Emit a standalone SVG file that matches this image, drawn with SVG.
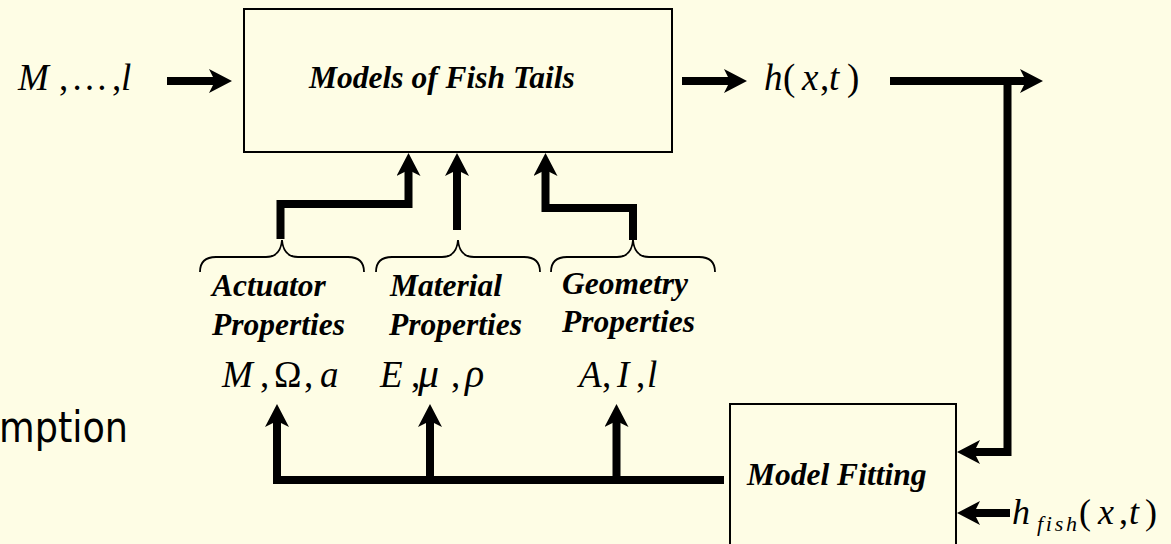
<svg xmlns="http://www.w3.org/2000/svg" width="1171" height="544" viewBox="0 0 1171 544">
<style>
.bg{fill:#FEFDE5}
.box{fill:none;stroke:#000;stroke-width:2}
.lbl{font-family:"Liberation Serif","Times New Roman",serif;font-weight:bold;font-style:italic;font-size:31.5px;fill:#000}
.m{font-family:"Liberation Serif","Times New Roman",serif;font-size:37px;fill:#000}
.i{font-style:italic}
.wire{fill:none;stroke:#000;stroke-width:8;stroke-linejoin:miter;stroke-linecap:butt}
.arr{marker-end:url(#ah)}
.brace{fill:none;stroke:#000;stroke-width:1.8}
.side{font-family:"DejaVu Sans","Noto Sans",sans-serif;font-size:42px;fill:#000}
</style>
<defs>
<marker id="ah" markerUnits="userSpaceOnUse" markerWidth="23" markerHeight="24" viewBox="0 0 23 24" refX="9" refY="12" orient="auto">
<path d="M0,0 L23,12 L0,24 L6,12 Z" fill="#000"/>
</marker>
</defs>
<rect class="bg" x="0" y="0" width="1171" height="544"/>

<g id="side-text">
<text class="side" x="-1" y="442" textLength="129" lengthAdjust="spacingAndGlyphs">mption</text>
</g>

<g id="node-models">
<rect class="box" x="244" y="9" width="428" height="143"/>
<text class="lbl" x="309" y="88">Models of Fish Tails</text>
</g>

<g id="node-model-fitting">
<rect class="box" x="730" y="404" width="226" height="170"/>
<text class="lbl" x="747" y="485">Model Fitting</text>
</g>

<g id="node-input">
<text class="m"><tspan class="i" x="18" y="90">M</tspan><tspan x="59" y="90">,</tspan><tspan x="71" y="90">…</tspan><tspan x="112" y="90">,</tspan><tspan class="i" x="121" y="90">l</tspan></text>
</g>

<g id="node-output">
<text class="m"><tspan class="i" x="764" y="90">h</tspan><tspan x="783" y="90">(</tspan><tspan class="i" x="802" y="90">x</tspan><tspan x="820" y="90">,</tspan><tspan class="i" x="829" y="90">t</tspan><tspan x="847" y="90">)</tspan></text>
</g>

<g id="node-hfish">
<text class="m" style="font-size:36px"><tspan class="i" x="1012" y="524">h</tspan><tspan class="i" x="1037" y="531" style="font-size:22px" textLength="40">fish</tspan><tspan x="1079" y="524">(</tspan><tspan class="i" x="1098" y="524">x</tspan><tspan x="1119" y="524">,</tspan><tspan class="i" x="1129" y="524">t</tspan><tspan x="1145" y="524">)</tspan></text>
</g>

<g id="node-actuator">
<path class="brace" d="M200,272 C200,262 206,257 216,257 L266,257 C275,257 281,252 282,240 C283,252 289,257 298,257 L348,257 C358,257 364,262 364,272"/>
<text class="lbl" x="212" y="296">Actuator</text>
<text class="lbl" x="212" y="335">Properties</text>
<text class="m"><tspan class="i" x="222" y="387">M</tspan><tspan x="260" y="387">,</tspan><tspan x="274" y="387">Ω</tspan><tspan x="304" y="387">,</tspan><tspan class="i" x="320" y="387">a</tspan></text>
</g>

<g id="node-material">
<path class="brace" d="M376,272 C376,262 382,257 392,257 L442,257 C451,257 457,252 458,240 C459,252 465,257 474,257 L524,257 C534,257 540,262 540,272"/>
<text class="lbl" x="390" y="296">Material</text>
<text class="lbl" x="389" y="335">Properties</text>
<text class="m"><tspan class="i" x="380" y="387">E</tspan><tspan x="411" y="387">,</tspan><tspan class="i" x="418" y="387" style="font-size:42px">μ</tspan><tspan x="451" y="387">,</tspan><tspan class="i" x="465" y="387" style="font-size:40px">ρ</tspan></text>
</g>

<g id="node-geometry">
<path class="brace" d="M551,272 C551,262 557,257 567,257 L617,257 C626,257 632,252 633,240 C634,252 640,257 649,257 L699,257 C709,257 715,262 715,272"/>
<text class="lbl" x="562" y="294">Geometry</text>
<text class="lbl" x="562" y="332">Properties</text>
<text class="m"><tspan class="i" x="579" y="387">A</tspan><tspan x="602" y="387">,</tspan><tspan class="i" x="617" y="387">I</tspan><tspan x="636" y="387">,</tspan><tspan class="i" x="647" y="387">l</tspan></text>
</g>

<g id="connectors">
<path class="wire arr" d="M167,81 H218"/>
<path class="wire arr" d="M682,81 H733"/>
<path class="wire arr" d="M890,81 H1029"/>
<path class="wire arr" d="M1007.5,81 V452 H971"/>
<path class="wire arr" d="M1010,513 H971"/>
<path class="wire arr" d="M724,480 H277 V418"/>
<path class="wire arr" d="M430,480 V418"/>
<path class="wire arr" d="M616.5,480 V418"/>
<path class="wire arr" d="M280.5,239 V204 H408.5 V167"/>
<path class="wire arr" d="M457,230 V167"/>
<path class="wire arr" d="M633,240 V208 H545.5 V167"/>
</g>
</svg>
